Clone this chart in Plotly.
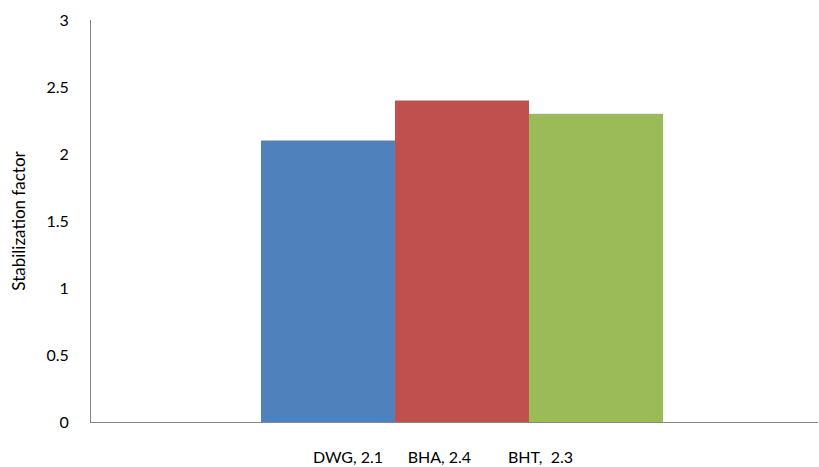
import plotly.graph_objects as go

# Stabilization factor of each antioxidant
names = ["DWG", "BHA", "BHT"]
values = [2.1, 2.4, 2.3]
colors = ["#4F81BD", "#C0504D", "#9BBB59"]
nb = "\u00a0"
category = ["DWG, 2.1" + nb * 6 + "BHA, 2.4" + nb * 9 + "BHT," + nb * 2 + "2.3"]
y_ticks = [0, 0.5, 1, 1.5, 2, 2.5, 3]

font_family = "Lato, 'Open Sans', sans-serif"

fig = go.Figure()
for name, val, col in zip(names, values, colors):
    fig.add_trace(go.Bar(
        x=category, y=[val], name=name,
        marker=dict(color=col, line=dict(width=0)),
    ))

fig.update_layout(
    width=819, height=467,
    margin=dict(l=91, r=1, t=20, b=43),
    paper_bgcolor="white", plot_bgcolor="white",
    barmode="group", bargap=0.447, bargroupgap=0,
    showlegend=False,
    font=dict(family=font_family, size=15, color="#000000"),
)
fig.update_xaxes(
    type="category", range=[-0.5103, 0.4897],
    showline=True, linecolor="#868686", linewidth=1,
    showgrid=False, ticks="", ticklabelstandoff=21, ticklabelshift=-19,
    tickfont=dict(size=16),
)
fig.update_yaxes(
    range=[0, 3], tickvals=y_ticks, ticktext=[f"{v:g}" for v in y_ticks],
    showline=True, linecolor="#868686", linewidth=1,
    showgrid=False, zeroline=False, ticks="", ticklabelstandoff=18,
    tickfont=dict(size=16),
    title=dict(text="Stabilization factor", font=dict(size=17), standoff=16),
)

fig.write_html("out.html")
